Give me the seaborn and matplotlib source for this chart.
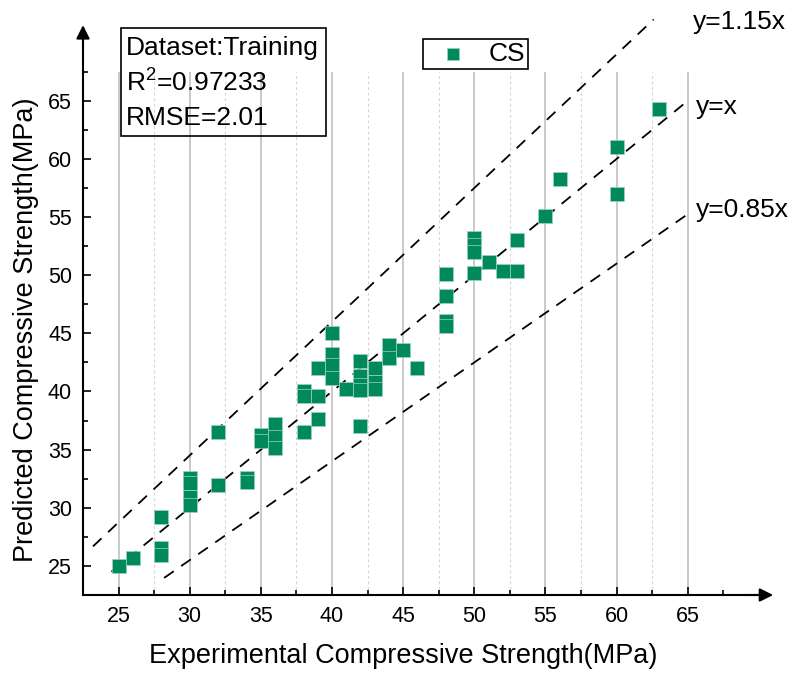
import numpy as np
import pandas as pd
import matplotlib
matplotlib.use("Agg")
import matplotlib.pyplot as plt
from matplotlib.patches import Rectangle
import seaborn as sns

# Experimental vs predicted compressive strength (MPa), training set
experimental = [25, 26, 28, 28, 28, 30, 30, 30, 30, 32, 32, 34, 34, 35, 35,
                36, 36, 36, 38, 38, 38, 39, 39, 39, 40, 40, 40, 40, 41,
                42, 42, 42, 42, 42, 43, 43, 43, 44, 44, 45, 46,
                48, 48, 48, 48, 50, 50, 50, 50, 51, 52, 53, 53,
                55, 56, 60, 60, 63]
predicted = [25.0, 25.7, 29.2, 26.5, 25.9, 32.6, 32.1, 30.9, 30.2, 36.5, 32.0,
             32.6, 32.2, 36.3, 35.7, 37.2, 36.1, 35.1, 40.0, 39.6, 36.5,
             42.0, 39.6, 37.6, 45.0, 43.2, 42.3, 41.2, 40.2,
             42.6, 41.3, 40.6, 40.1, 37.0, 42.0, 40.8, 40.2, 44.0, 42.9,
             43.6, 42.0, 50.1, 48.2, 46.1, 45.6, 53.2, 52.6, 52.0, 50.2,
             51.1, 50.4, 53.0, 50.4, 55.1, 58.3, 61.0, 57.0, 64.3]

major_ticks = [25, 30, 35, 40, 45, 50, 55, 60, 65]
minor_ticks = [27.5, 32.5, 37.5, 42.5, 47.5, 52.5, 57.5, 62.5, 67.5]

# reference lines: slope and drawn x-range
ref_slopes = [1.15, 1.0, 0.85]
ref_labels = ["y=1.15x", "y=x", "y=0.85x"]
ref_xranges = [(23.2, 62.6), (24.5, 65.0), (28.2, 65.0)]

stats_lines = ["Dataset:Training", r"R$^2$=0.97233", "RMSE=2.01"]

sns.set_theme(style="white")
plt.rcParams["font.family"] = ["Liberation Sans", "DejaVu Sans"]
plt.rcParams["mathtext.fontset"] = "custom"
plt.rcParams["mathtext.rm"] = "Liberation Sans"
plt.rcParams["mathtext.it"] = "Liberation Sans"
plt.rcParams["mathtext.default"] = "rm"
plt.rcParams["text.color"] = "black"
plt.rcParams["axes.labelcolor"] = "black"
plt.rcParams["xtick.color"] = "black"
plt.rcParams["ytick.color"] = "black"

W, H = 796, 675
fig = plt.figure(figsize=(W / 100, H / 100), dpi=100)
ax = fig.add_axes([83 / W, 80 / H, 704.4 / W, 587.3 / H])
ax.set_xlim(22.5, 72)
ax.set_ylim(22.5, 73)

# vertical grid: solid at majors, dotted at minors
ax.vlines(major_ticks, 22.5, 67.5, colors="#c0c0c0", lw=1.2, zorder=0)
ax.vlines(minor_ticks[:-1], 22.5, 67.5, colors="#d4d4d4", lw=0.8,
          linestyles=(0, (2.5, 2.5)), zorder=0)

# reference lines
for k, (x0, x1) in zip(ref_slopes, ref_xranges):
    xs = np.array([x0, x1])
    ax.plot(xs, k * xs, color="black", lw=1.3, dashes=(6.5, 5), zorder=2)

df = pd.DataFrame({"exp": experimental, "pred": predicted})
sns.scatterplot(data=df, x="exp", y="pred", marker="s", s=92,
                color="#008A5B", edgecolor="#9fd3bd", linewidth=0.5,
                label="CS", ax=ax, zorder=3)

ax.text(65.35, 71.8, ref_labels[0], fontsize=19, va="center", ha="left")
ax.text(65.6, 64.5, ref_labels[1], fontsize=19, va="center", ha="left")
ax.text(65.6, 55.6, ref_labels[2], fontsize=19, va="center", ha="left")

# axes styling
for side in ("top", "right"):
    ax.spines[side].set_visible(False)
for side in ("left", "bottom"):
    ax.spines[side].set_linewidth(1.5)
    ax.spines[side].set_color("black")
ax.spines["bottom"].set_bounds(22.5, 70.0)
ax.spines["left"].set_bounds(22.5, 70.5)
ax.annotate("", xy=(71.0, 22.5), xytext=(69.0, 22.5), annotation_clip=False,
            arrowprops=dict(arrowstyle="-|>", color="black", lw=1.5,
                            mutation_scale=20, shrinkA=0, shrinkB=0))
ax.annotate("", xy=(22.5, 71.5), xytext=(22.5, 69.5), annotation_clip=False,
            arrowprops=dict(arrowstyle="-|>", color="black", lw=1.5,
                            mutation_scale=20, shrinkA=0, shrinkB=0))

ax.set_xticks(major_ticks)
ax.set_yticks(major_ticks)
ax.set_xticks(minor_ticks, minor=True)
ax.set_yticks(minor_ticks, minor=True)
ax.tick_params(which="major", direction="in", length=6, width=1.2,
               labelsize=15.5, pad=8, colors="black",
               bottom=True, left=True)
ax.tick_params(which="minor", direction="in", length=3.5, width=1.2,
               bottom=True, left=True)

ax.set_xlabel("Experimental Compressive Strength(MPa)", fontsize=19.5)
ax.set_ylabel("Predicted Compressive Strength(MPa)", fontsize=19.5)
ax.xaxis.set_label_coords(0.455, -0.082)
ax.yaxis.set_label_coords(-0.062, 0.451)

# statistics box
fig.patches.append(Rectangle((121 / W, 1 - 136 / H), 205 / W, 108 / H,
                             transform=fig.transFigure, fill=False,
                             edgecolor="black", lw=1.2))
for txt, py in zip(stats_lines, [48, 83, 118]):
    fig.text(126 / W, 1 - py / H, txt, fontsize=19, va="center", ha="left")

leg = ax.legend(loc="upper left", bbox_to_anchor=(423 / W, 1 - 39 / H),
                bbox_transform=fig.transFigure, fontsize=19, frameon=True,
                fancybox=False, edgecolor="black", framealpha=1,
                borderpad=0.12, handletextpad=0.3, borderaxespad=0,
                handlelength=2.05, markerscale=0.85)
leg.get_frame().set_linewidth(1.2)

fig.savefig("out.png", dpi=100)
